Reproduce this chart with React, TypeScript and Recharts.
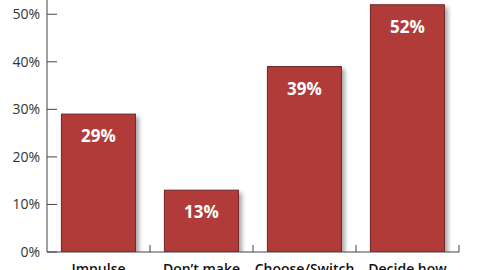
import React from "react";
import { BarChart, Bar, XAxis, YAxis, LabelList } from "recharts";

const categories = ["Impulse", "Don’t make", "Choose/Switch", "Decide how"];
const values = [29, 13, 39, 52];
const yTicks = [0, 10, 20, 30, 40, 50];

const data = categories.map((c, i) => ({ name: c, value: values[i] }));

const AXIS_X = 47;
const AXIS_Y = 252;
const BAND = 103;

const YTick = (props: any) => {
  const { y, payload } = props;
  return (
    <g>
      <line x1={AXIS_X} x2={AXIS_X + 10} y1={y} y2={y} stroke="#444" strokeWidth={1} />
      <text x={40} y={y + 5} textAnchor="end" fontSize={14} fill="#333" fontFamily="'Open Sans', sans-serif">
        {payload.value}%
      </text>
    </g>
  );
};

const XTick = (props: any) => {
  const { x, payload } = props;
  const right = x + BAND / 2;
  return (
    <g>
      <line x1={right} x2={right} y1={AXIS_Y - 7} y2={AXIS_Y} stroke="#444" strokeWidth={1} />
      <text x={x} y={274} textAnchor="middle" fontSize={14} fontWeight={600} fill="#111" fontFamily="'Open Sans', sans-serif">
        {payload.value}
      </text>
    </g>
  );
};

const BarShape = (props: any) => {
  const { x, y, width, height } = props;
  return (
    <rect
      x={x}
      y={y}
      width={width}
      height={height}
      fill="#B03B38"
      stroke="#6E2523"
      strokeWidth={1}
      style={{ filter: "drop-shadow(3px 3px 2px rgba(0,0,0,0.35))" }}
    />
  );
};

const BarLabel = (props: any) => {
  const { x, y, width, value } = props;
  return (
    <text x={x + width / 2} y={y + 28} textAnchor="middle" fontSize={17} fontWeight="bold" fill="#fff" fontFamily="'Open Sans', sans-serif">
      {value}%
    </text>
  );
};

export default function App() {
  return (
    <div style={{ position: "absolute", left: 0, top: 0, width: 480, height: 270, background: "#fff" }}>
      <BarChart
        width={480}
        height={270}
        data={data}
        margin={{ top: 0, right: 21, left: 0, bottom: 0 }}
        barCategoryGap="14%"
      >
        <XAxis
          dataKey="name"
          height={18}
          tickLine={false}
          axisLine={{ stroke: "#444" }}
          tick={<XTick />}
          interval={0}
        />
        <YAxis
          width={47}
          domain={[0, 53]}
          ticks={yTicks}
          tickLine={false}
          axisLine={{ stroke: "#444" }}
          tick={<YTick />}
          allowDataOverflow
        />
        <Bar dataKey="value" isAnimationActive={false} shape={<BarShape />}>
          <LabelList dataKey="value" content={<BarLabel />} />
        </Bar>
      </BarChart>
    </div>
  );
}
